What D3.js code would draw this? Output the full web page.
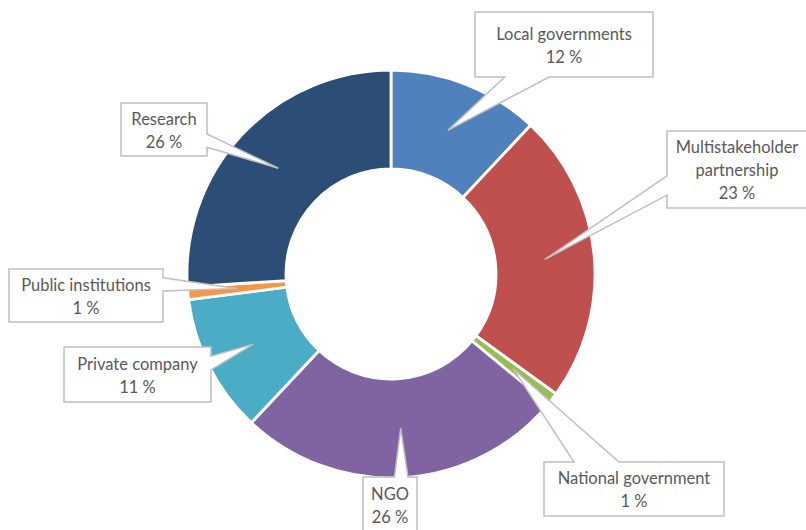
<!DOCTYPE html>
<html>
<head>
<meta charset="utf-8">
<script src="https://cdn.jsdelivr.net/npm/d3@7"></script>
<style>
  html, body { margin: 0; padding: 0; background: #ffffff; }
  svg { display: block; }
  text { font-family: Lato, "Open Sans", sans-serif; fill: #595959; }
</style>
</head>
<body>
<svg id="chart" width="806" height="530"></svg>
<script>
// Share of actors by type (percent), clockwise from 12 o'clock
const categories = [
  "Local governments",
  "Multistakeholder partnership",
  "National government",
  "NGO",
  "Private company",
  "Public institutions",
  "Research"
];
const shares = [12, 23, 1, 26, 11, 1, 26];
const sliceColors = ["#4F81BD", "#C0504D", "#9BBB59", "#8064A2", "#4BACC6", "#F79646", "#2C4D75"];

// Callout boxes: rectangle and text lines for each category
const callouts = {
  "Local governments":            { box: [475, 12, 178, 65],  lines: ["Local governments", "12 %"] },
  "Multistakeholder partnership": { box: [667, 131, 140, 77], lines: ["Multistakeholder", "partnership", "23 %"] },
  "National government":          { box: [544, 462, 180, 54], lines: ["National government", "1 %"] },
  "NGO":                          { box: [363, 477, 54, 56],  lines: ["NGO", "26 %"] },
  "Private company":              { box: [64, 347, 147, 55],  lines: ["Private company", "11 %"] },
  "Public institutions":          { box: [9, 269, 154, 53],   lines: ["Public institutions", "1 %"] },
  "Research":                     { box: [121, 103, 86, 53],  lines: ["Research", "26 %"] }
};

const cx = 391, cy = 274, outerR = 204, innerR = 105;
const lineH = 23;

const svg = d3.select("#chart");
const data = categories.map((c, i) => ({ name: c, value: shares[i], color: sliceColors[i] }));

const pie = d3.pie().value(d => d.value).sort(null);
const arc = d3.arc().innerRadius(innerR).outerRadius(outerR);
const arcs = pie(data);

const g = svg.append("g").attr("transform", `translate(${cx},${cy})`);

g.selectAll("path.slice")
  .data(arcs)
  .join("path")
  .attr("class", "slice")
  .attr("d", arc)
  .attr("fill", d => d.data.color)
  .attr("stroke", "#ffffff")
  .attr("stroke-width", 2.8)
  .attr("stroke-linejoin", "miter");

// Rectangular callout with a wedge pointing at (tx, ty)
function wedgeCallout(x, y, w, h, tx, ty) {
  const mx = x + w / 2, my = y + h / 2;
  const dx = tx - mx, dy = ty - my;
  const horizontal = Math.abs(dx) / w > Math.abs(dy) / h;
  const pts = [];
  const tip = [tx, ty];
  // top edge, left to right
  pts.push([x, y]);
  if (!horizontal && dy < 0) {
    const f = dx > 0 ? [7 / 12, 10 / 12] : [2 / 12, 5 / 12];
    pts.push([x + w * f[0], y], tip, [x + w * f[1], y]);
  }
  pts.push([x + w, y]);
  // right edge, top to bottom
  if (horizontal && dx > 0) {
    const f = dy > 0 ? [7 / 12, 10 / 12] : [2 / 12, 5 / 12];
    pts.push([x + w, y + h * f[0]], tip, [x + w, y + h * f[1]]);
  }
  pts.push([x + w, y + h]);
  // bottom edge, right to left
  if (!horizontal && dy > 0) {
    const f = dx > 0 ? [7 / 12, 10 / 12] : [2 / 12, 5 / 12];
    pts.push([x + w * f[1], y + h], tip, [x + w * f[0], y + h]);
  }
  pts.push([x, y + h]);
  // left edge, bottom to top
  if (horizontal && dx < 0) {
    const f = dy > 0 ? [7 / 12, 10 / 12] : [2 / 12, 5 / 12];
    pts.push([x, y + h * f[1]], tip, [x, y + h * f[0]]);
  }
  return "M" + pts.map(p => p.join(",")).join("L") + "Z";
}

const labels = svg.append("g").attr("class", "callouts");

arcs.forEach(a => {
  const c = callouts[a.data.name];
  const [bx, by, bw, bh] = c.box;
  const [px, py] = arc.centroid(a);
  const tx = cx + px, ty = cy + py;

  labels.append("path")
    .attr("d", wedgeCallout(bx, by, bw, bh, tx, ty))
    .attr("fill", "#ffffff")
    .attr("stroke", "#BFBFBF")
    .attr("stroke-width", 1.5)
    .attr("stroke-linejoin", "miter");

  const midY = by + bh / 2 + 1;
  const n = c.lines.length;
  const t = labels.append("text")
    .attr("text-anchor", "middle")
    .attr("font-size", 16.5);
  c.lines.forEach((ln, i) => {
    t.append("tspan")
      .attr("x", bx + bw / 2)
      .attr("y", midY + (i - (n - 1) / 2) * lineH)
      .attr("dy", "0.35em")
      .text(ln);
  });
});
</script>
</body>
</html>
